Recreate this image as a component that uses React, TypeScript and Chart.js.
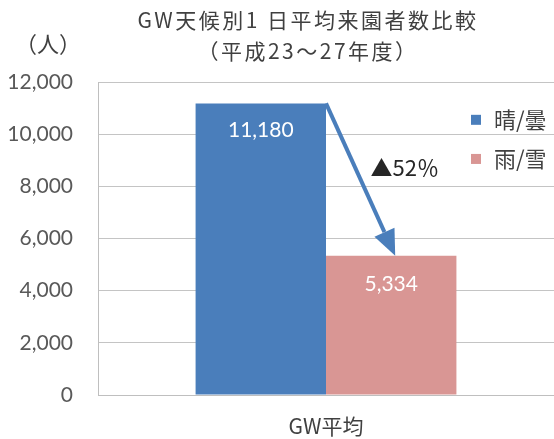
import React, { useEffect, useRef } from 'react';
import { Chart, registerables } from 'chart.js';

Chart.register(...registerables);

const titleLines = ['GW天候別1 日平均来園者数比較', '（平成23～27年度）'];
const unitLabel = '（人）';
const categories = ['GW平均'];
const seriesNames = ['晴/曇', '雨/雪'];
const sunnyValues = [11180];
const rainyValues = [5334];
const yMin = 0;
const yMax = 12000;
const yStep = 2000;
const changeLabel = '▲52％';
const changeLabelValue = 8700;
const legendValues = [10550, 9050];

const BLUE = '#4A7EBB';
const PINK = '#D99694';
const TEXT = '#404040';
const JP = '"Noto Sans CJK JP", sans-serif';
const NUM = 'Lato, "Open Sans", sans-serif';

const overlayPlugin = {
  id: 'overlay',
  afterDatasetsDraw(chart: any) {
    const ctx = chart.ctx as CanvasRenderingContext2D;
    const y = chart.scales.y;
    const m0 = chart.getDatasetMeta(0).data[0] as any;
    const m1 = chart.getDatasetMeta(1).data[0] as any;
    ctx.save();

    // data labels
    ctx.fillStyle = '#ffffff';
    ctx.font = `21px ${NUM}`;
    ctx.textAlign = 'center';
    ctx.textBaseline = 'middle';
    ctx.fillText(sunnyValues[0].toLocaleString('en-US'), m0.x, m0.y + 27);
    ctx.fillText(rainyValues[0].toLocaleString('en-US'), m1.x, m1.y + 28);

    // arrow
    const sx = m0.x + m0.width / 2;
    const sy = m0.y;
    const ex = m1.x + 4;
    const ey = m1.y;
    const ang = Math.atan2(ey - sy, ex - sx);
    const headLen = 26;
    const headHalf = 11;
    const bx = ex - headLen * Math.cos(ang);
    const by = ey - headLen * Math.sin(ang);
    ctx.strokeStyle = BLUE;
    ctx.fillStyle = BLUE;
    ctx.lineWidth = 4;
    ctx.beginPath();
    ctx.moveTo(sx, sy);
    ctx.lineTo(bx, by);
    ctx.stroke();
    ctx.beginPath();
    ctx.moveTo(ex, ey);
    ctx.lineTo(bx + headHalf * Math.sin(ang), by - headHalf * Math.cos(ang));
    ctx.lineTo(bx - headHalf * Math.sin(ang), by + headHalf * Math.cos(ang));
    ctx.closePath();
    ctx.fill();

    // change label
    ctx.fillStyle = '#262626';
    ctx.font = `22px ${JP}`;
    ctx.textAlign = 'left';
    ctx.textBaseline = 'middle';
    ctx.fillText(changeLabel, (sx + ex) / 2 + 10, y.getPixelForValue(changeLabelValue));

    // title
    ctx.fillStyle = TEXT;
    ctx.font = `21px ${JP}`;
    ctx.textAlign = 'center';
    (ctx as any).letterSpacing = '2.5px';
    ctx.fillText(titleLines[0], 308, 20);
    ctx.fillText(titleLines[1], 308, 51);
    (ctx as any).letterSpacing = '0px';

    // unit
    ctx.font = `22px ${JP}`;
    ctx.fillText(unitLabel, 48, 44);

    // legend
    const colors = [BLUE, PINK];
    ctx.textAlign = 'left';
    seriesNames.forEach((name, i) => {
      const ly = y.getPixelForValue(legendValues[i]);
      ctx.fillStyle = colors[i];
      ctx.fillRect(471, ly - 5, 10, 10);
      ctx.fillStyle = TEXT;
      ctx.font = `22px ${JP}`;
      ctx.fillText(name, 494, ly);
    });

    ctx.restore();
  },
};

export default function App() {
  const ref = useRef<HTMLCanvasElement>(null);
  useEffect(() => {
    document.body.style.margin = '0';
    const chart = new Chart(ref.current as HTMLCanvasElement, {
      type: 'bar',
      data: {
        labels: categories,
        datasets: [
          { label: seriesNames[0], data: sunnyValues, backgroundColor: BLUE, categoryPercentage: 0.572, barPercentage: 1 },
          { label: seriesNames[1], data: rainyValues, backgroundColor: PINK, categoryPercentage: 0.572, barPercentage: 1 },
        ],
      },
      options: {
        animation: false,
        responsive: false,
        maintainAspectRatio: false,
        layout: { padding: { top: 82, right: 0, bottom: 0, left: 0 } },
        plugins: { legend: { display: false }, title: { display: false }, tooltip: { enabled: false } },
        scales: {
          x: {
            grid: { display: false, drawTicks: false },
            border: { color: '#bfbfbf', width: 1 },
            ticks: { color: TEXT, font: { family: JP, size: 21 }, padding: 18 },
            afterFit: (s: any) => { s.height = 44; },
          },
          y: {
            min: yMin,
            max: yMax,
            grid: { color: '#c4c4c4', drawTicks: false },
            border: { color: '#bfbfbf', width: 1 },
            ticks: {
              stepSize: yStep,
              color: '#595959',
              font: { family: NUM, size: 21 },
              padding: 25,
              callback: (v: any) => Number(v).toLocaleString('en-US'),
            },
            afterFit: (s: any) => { s.width = 98; },
          },
        },
      },
      plugins: [overlayPlugin],
    });
    return () => chart.destroy();
  }, []);
  return (
    <div style={{ width: 554, height: 439 }}>
      <canvas ref={ref} width={554} height={439} style={{ display: 'block' }} />
    </div>
  );
}
